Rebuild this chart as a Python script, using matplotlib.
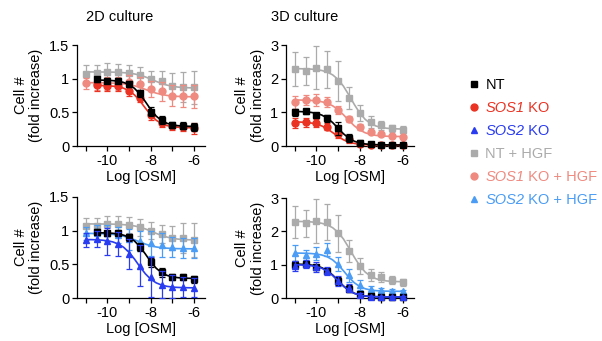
import numpy as np
import matplotlib
matplotlib.use("Agg")
import matplotlib.pyplot as plt
from matplotlib.lines import Line2D

plt.rcParams['font.family'] = ['Liberation Sans', 'DejaVu Sans']
fs = 10.5

# doses (log M)
x11 = [-11, -10.5, -10, -9.5, -9, -8.5, -8, -7.5, -7, -6.5, -6]
x10 = x11[1:]
xfit = [-11, -10.75, -10.5, -10.25, -10, -9.75, -9.5, -9.25, -9, -8.75, -8.5,
        -8.25, -8, -7.75, -7.5, -7.25, -7, -6.75, -6.5, -6.25, -6]
xfit10 = xfit[2:]

# ---- 2D culture, top (NT / SOS1) ----
nt_2d_a = [0.99, 0.97, 0.97, 0.92, 0.78, 0.51, 0.38, 0.31, 0.30, 0.28]
nt_2d_a_err = [0.04, 0.04, 0.04, 0.05, 0.05, 0.07, 0.06, 0.05, 0.05, 0.06]
sos1_2d = [0.90, 0.89, 0.89, 0.82, 0.72, 0.46, 0.34, 0.29, 0.28, 0.26]
sos1_2d_err = [0.08, 0.08, 0.07, 0.08, 0.07, 0.08, 0.06, 0.05, 0.05, 0.08]
nthgf_2d_a = [1.07, 1.08, 1.10, 1.10, 1.08, 1.05, 1.00, 0.97, 0.89, 0.88, 0.87]
nthgf_2d_a_err = [0.13, 0.12, 0.13, 0.12, 0.12, 0.12, 0.12, 0.15, 0.19, 0.22, 0.25]
sos1hgf_2d = [0.93, 0.93, 0.93, 0.93, 0.95, 0.92, 0.85, 0.81, 0.75, 0.74, 0.74]
sos1hgf_2d_err = [0.08, 0.10, 0.10, 0.10, 0.10, 0.10, 0.12, 0.14, 0.15, 0.16, 0.17]

nt_2d_a_fit = [0.979, 0.978, 0.975, 0.971, 0.962, 0.944, 0.912, 0.856, 0.770, 0.659,
               0.542, 0.444, 0.377, 0.337, 0.314, 0.302, 0.296, 0.293, 0.291]
sos1_2d_fit = [0.899, 0.897, 0.894, 0.889, 0.878, 0.858, 0.820, 0.759, 0.670, 0.563,
               0.461, 0.383, 0.332, 0.303, 0.287, 0.279, 0.275, 0.272, 0.271]
nthgf_2d_fit = [1.100, 1.100, 1.099, 1.099, 1.098, 1.097, 1.094, 1.089, 1.082, 1.070, 1.052,
                1.026, 0.994, 0.960, 0.928, 0.904, 0.887, 0.875, 0.869, 0.865, 0.863]
sos1hgf_2d_fit = [0.940, 0.940, 0.939, 0.939, 0.937, 0.934, 0.930, 0.923, 0.911, 0.894, 0.870,
                  0.841, 0.811, 0.785, 0.765, 0.751, 0.742, 0.737, 0.734, 0.732, 0.731]

# ---- 3D culture, top (NT / SOS1) ----
nt_3d_a = [1.00, 1.03, 0.93, 0.82, 0.52, 0.25, 0.09, 0.05, 0.03, 0.03, 0.03]
nt_3d_a_err = [0.10, 0.08, 0.06, 0.10, 0.18, 0.12, 0.08, 0.05, 0.03, 0.03, 0.03]
sos1_3d = [0.69, 0.70, 0.69, 0.57, 0.37, 0.20, 0.05, 0.03, 0.03, 0.03, 0.03]
sos1_3d_err = [0.15, 0.13, 0.12, 0.10, 0.12, 0.10, 0.04, 0.03, 0.02, 0.02, 0.02]
nthgf_3d_a = [2.28, 2.22, 2.33, 2.28, 1.93, 1.42, 0.98, 0.71, 0.62, 0.52, 0.48]
nthgf_3d_a_err = [0.50, 0.42, 0.63, 0.55, 0.58, 0.33, 0.25, 0.18, 0.13, 0.10, 0.10]
sos1hgf_3d = [1.30, 1.36, 1.37, 1.32, 1.08, 0.80, 0.56, 0.41, 0.35, 0.30, 0.27]
sos1hgf_3d_err = [0.20, 0.15, 0.18, 0.15, 0.12, 0.10, 0.08, 0.06, 0.05, 0.05, 0.05]

nt_3d_a_fit = [1.026, 1.022, 1.014, 0.999, 0.971, 0.918, 0.829, 0.696, 0.530, 0.363, 0.231,
               0.142, 0.089, 0.061, 0.046, 0.039, 0.035, 0.033, 0.032, 0.031, 0.031]
sos1_3d_fit = [0.715, 0.711, 0.702, 0.684, 0.652, 0.596, 0.510, 0.399, 0.282, 0.184, 0.117,
               0.077, 0.054, 0.042, 0.036, 0.033, 0.032, 0.031, 0.030, 0.030, 0.030]
nthgf_3d_a_fit = [2.300, 2.295, 2.291, 2.284, 2.269, 2.243, 2.195, 2.113, 1.977, 1.775, 1.513,
                  1.232, 0.980, 0.791, 0.667, 0.593, 0.550, 0.527, 0.515, 0.508, 0.504]
sos1hgf_3d_fit = [1.367, 1.365, 1.361, 1.354, 1.339, 1.314, 1.269, 1.194, 1.080, 0.927, 0.756,
                  0.598, 0.476, 0.393, 0.343, 0.315, 0.299, 0.290, 0.286, 0.283, 0.282]

# ---- 2D culture, bottom (NT / SOS2) ----
nt_2d_b = [0.98, 0.96, 0.97, 0.90, 0.76, 0.53, 0.38, 0.31, 0.31, 0.28]
nt_2d_b_err = [0.04, 0.04, 0.04, 0.05, 0.06, 0.07, 0.07, 0.05, 0.05, 0.05]
sos2_2d = [0.86, 0.88, 0.84, 0.80, 0.65, 0.48, 0.31, 0.20, 0.17, 0.16, 0.15]
sos2_2d_err = [0.10, 0.12, 0.20, 0.18, 0.22, 0.30, 0.30, 0.20, 0.17, 0.15, 0.14]
nthgf_2d_b = [1.07, 1.07, 1.10, 1.10, 1.08, 1.05, 1.00, 0.95, 0.89, 0.89, 0.86]
nthgf_2d_b_err = [0.12, 0.12, 0.12, 0.12, 0.12, 0.13, 0.13, 0.13, 0.18, 0.22, 0.25]
sos2hgf_2d = [0.96, 0.96, 0.96, 0.94, 0.87, 0.85, 0.81, 0.79, 0.76, 0.74, 0.74]
sos2hgf_2d_err = [0.10, 0.12, 0.12, 0.12, 0.15, 0.15, 0.18, 0.18, 0.15, 0.15, 0.15]

nt_2d_b_fit = [0.969, 0.968, 0.965, 0.961, 0.951, 0.933, 0.901, 0.846, 0.763, 0.654,
               0.538, 0.442, 0.376, 0.336, 0.314, 0.302, 0.296, 0.293, 0.291]
sos2_2d_fit = [0.868, 0.867, 0.864, 0.859, 0.850, 0.833, 0.803, 0.753, 0.678, 0.578, 0.464,
               0.360, 0.279, 0.225, 0.192, 0.173, 0.162, 0.157, 0.154, 0.152, 0.151]
sos2hgf_2d_fit = [0.959, 0.959, 0.957, 0.955, 0.951, 0.945, 0.934, 0.918, 0.895, 0.865, 0.832,
                  0.801, 0.776, 0.758, 0.747, 0.740, 0.736, 0.733, 0.732, 0.731, 0.730]

# ---- 3D culture, bottom (NT / SOS2) ----
nt_3d_b = [1.00, 1.02, 0.93, 0.80, 0.52, 0.28, 0.12, 0.05, 0.04, 0.03, 0.03]
nt_3d_b_err = [0.10, 0.07, 0.07, 0.08, 0.12, 0.10, 0.06, 0.03, 0.03, 0.02, 0.02]
sos2_3d = [0.97, 1.02, 0.92, 0.80, 0.50, 0.30, 0.10, 0.04, 0.03, 0.03, 0.03]
sos2_3d_err = [0.15, 0.12, 0.15, 0.12, 0.15, 0.12, 0.06, 0.03, 0.02, 0.02, 0.02]
nthgf_3d_b = [2.28, 2.24, 2.31, 2.28, 1.94, 1.42, 0.96, 0.70, 0.62, 0.53, 0.47]
nthgf_3d_b_err = [0.48, 0.40, 0.65, 0.55, 0.55, 0.33, 0.25, 0.18, 0.15, 0.12, 0.10]
sos2hgf_3d = [1.35, 1.28, 1.33, 1.45, 1.02, 0.68, 0.40, 0.27, 0.25, 0.22, 0.20]
sos2hgf_3d_err = [0.25, 0.15, 0.20, 0.20, 0.20, 0.20, 0.15, 0.10, 0.06, 0.05, 0.05]

nt_3d_b_fit = [1.016, 1.012, 1.004, 0.989, 0.962, 0.909, 0.821, 0.690, 0.525, 0.360, 0.229,
               0.141, 0.088, 0.060, 0.046, 0.039, 0.035, 0.033, 0.032, 0.031, 0.031]
sos2_3d_fit = [0.996, 0.992, 0.984, 0.969, 0.943, 0.891, 0.805, 0.676, 0.515, 0.354, 0.226,
               0.139, 0.087, 0.060, 0.045, 0.038, 0.035, 0.033, 0.032, 0.031, 0.030]
nthgf_3d_b_fit = [2.300, 2.295, 2.291, 2.283, 2.268, 2.241, 2.192, 2.109, 1.972, 1.768, 1.504,
                  1.222, 0.968, 0.778, 0.653, 0.578, 0.535, 0.511, 0.499, 0.492, 0.488]
sos2hgf_3d_fit = [1.348, 1.346, 1.342, 1.334, 1.319, 1.290, 1.236, 1.143, 1.000, 0.815, 0.620,
                  0.457, 0.345, 0.278, 0.240, 0.221, 0.210, 0.205, 0.203, 0.201, 0.200]

# legend: italic gene part + plain rest
leg_gene = ['', 'SOS1', 'SOS2', '', 'SOS1', 'SOS2']
leg_rest = ['NT', ' KO', ' KO', 'NT + HGF', ' KO + HGF', ' KO + HGF']

c_nt = '#000000'
c_sos1 = '#ea3323'
c_sos2 = '#2a3cf0'
c_nthgf = '#ababab'
c_sos1hgf = '#ef8a80'
c_sos2hgf = '#4a9cf4'

fig = plt.figure(figsize=(6.02, 3.41), dpi=100)
W, H = 602, 341
def box(l, t, r, b):
    return [l / W, 1 - b / H, (r - l) / W, (b - t) / H]

ax_tl = fig.add_axes(box(77, 45, 205, 146))
ax_tr = fig.add_axes(box(286, 45, 414, 146))
ax_bl = fig.add_axes(box(77, 197, 205, 298))
ax_br = fig.add_axes(box(286, 198, 414, 298))

def series(ax, x, y, e, xf, yf, color, marker, ms, z):
    ax.plot(xf, yf, color=color, lw=1.2, zorder=z, clip_on=False)
    ax.errorbar(x, y, yerr=e, fmt=marker, color=color, ms=ms, capsize=2.5,
                elinewidth=0.9, capthick=0.9, zorder=z + 0.5, clip_on=False)

series(ax_tl, x11, nthgf_2d_a, nthgf_2d_a_err, xfit, nthgf_2d_fit, c_nthgf, 's', 5, 2)
series(ax_tl, x11, sos1hgf_2d, sos1hgf_2d_err, xfit, sos1hgf_2d_fit, c_sos1hgf, 'o', 5, 3)
series(ax_tl, x10, sos1_2d, sos1_2d_err, xfit10, sos1_2d_fit, c_sos1, 'o', 5, 4)
series(ax_tl, x10, nt_2d_a, nt_2d_a_err, xfit10, nt_2d_a_fit, c_nt, 's', 5, 5)

series(ax_tr, x11, nthgf_3d_a, nthgf_3d_a_err, xfit, nthgf_3d_a_fit, c_nthgf, 's', 5, 2)
series(ax_tr, x11, sos1hgf_3d, sos1hgf_3d_err, xfit, sos1hgf_3d_fit, c_sos1hgf, 'o', 5, 3)
series(ax_tr, x11, sos1_3d, sos1_3d_err, xfit, sos1_3d_fit, c_sos1, 'o', 5, 4)
series(ax_tr, x11, nt_3d_a, nt_3d_a_err, xfit, nt_3d_a_fit, c_nt, 's', 5, 5)

series(ax_bl, x11, nthgf_2d_b, nthgf_2d_b_err, xfit, nthgf_2d_fit, c_nthgf, 's', 5, 2)
series(ax_bl, x11, sos2hgf_2d, sos2hgf_2d_err, xfit, sos2hgf_2d_fit, c_sos2hgf, '^', 5, 3)
series(ax_bl, x10, nt_2d_b, nt_2d_b_err, xfit10, nt_2d_b_fit, c_nt, 's', 5, 4)
series(ax_bl, x11, sos2_2d, sos2_2d_err, xfit, sos2_2d_fit, c_sos2, '^', 5, 5)

series(ax_br, x11, nthgf_3d_b, nthgf_3d_b_err, xfit, nthgf_3d_b_fit, c_nthgf, 's', 5, 2)
series(ax_br, x11, sos2hgf_3d, sos2hgf_3d_err, xfit, sos2hgf_3d_fit, c_sos2hgf, '^', 5, 3)
series(ax_br, x11, nt_3d_b, nt_3d_b_err, xfit, nt_3d_b_fit, c_nt, 's', 5, 4)
series(ax_br, x11, sos2_3d, sos2_3d_err, xfit, sos2_3d_fit, c_sos2, '^', 5, 5)

for ax, top in [(ax_tl, 1.5), (ax_tr, 3), (ax_bl, 1.5), (ax_br, 3)]:
    ax.set_xlim(-11.4, -5.5)
    ax.set_ylim(0, top)
    for s in ['top', 'right']:
        ax.spines[s].set_visible(False)
    for s in ['left', 'bottom']:
        ax.spines[s].set_linewidth(0.9)
    ax.set_xticks([-10, -8, -6])
    ax.set_xticklabels(['-10', '-8', '-6'])
    ax.set_xticks([-11, -9, -7], minor=True)
    ax.tick_params(which='both', direction='out', length=3.5, width=0.9, labelsize=fs, pad=2)
    if top == 3:
        ax.set_yticks([0, 1, 2, 3])
        ax.set_yticklabels(['0', '1', '2', '3'])
    else:
        ax.set_yticks([0, 0.5, 1, 1.5])
        ax.set_yticklabels(['0', '0.5', '1', '1.5'])
    ax.set_ylabel('Cell #\n(fold increase)', fontsize=fs, labelpad=4, linespacing=1.15)
    ax.set_xlabel('Log [OSM]', fontsize=fs, labelpad=2)

fig.text(120 / W, 1 - 17 / H, '2D culture', ha='center', va='center', fontsize=fs)
fig.text(305 / W, 1 - 17 / H, '3D culture', ha='center', va='center', fontsize=fs)

colors = [c_nt, c_sos1, c_sos2, c_nthgf, c_sos1hgf, c_sos2hgf]
markers = ['s', 'o', '^', 's', 'o', '^']
handles = [Line2D([], [], ls='none', marker=m, color=c, ms=5) for m, c in zip(markers, colors)]
first = [g if g else r for g, r in zip(leg_gene, leg_rest)]
leg = fig.legend(handles, first, loc='upper left', bbox_to_anchor=(462 / W, 1 - 72 / H),
                 frameon=False, fontsize=fs, labelcolor=colors, handlelength=0.8,
                 handletextpad=0.4, labelspacing=0.62, borderaxespad=0)

for t, g in zip(leg.get_texts(), leg_gene):
    if g:
        t.set_fontstyle('italic')
fig.canvas.draw()
renderer = fig.canvas.get_renderer()
for t, g, r, c in zip(leg.get_texts(), leg_gene, leg_rest, colors):
    if not g:
        continue
    bb = t.get_window_extent(renderer)
    fig.text(bb.x1 / W, bb.y0 / H, r, color=c, fontsize=fs, ha='left', va='bottom')

fig.savefig('out.png', dpi=100)
